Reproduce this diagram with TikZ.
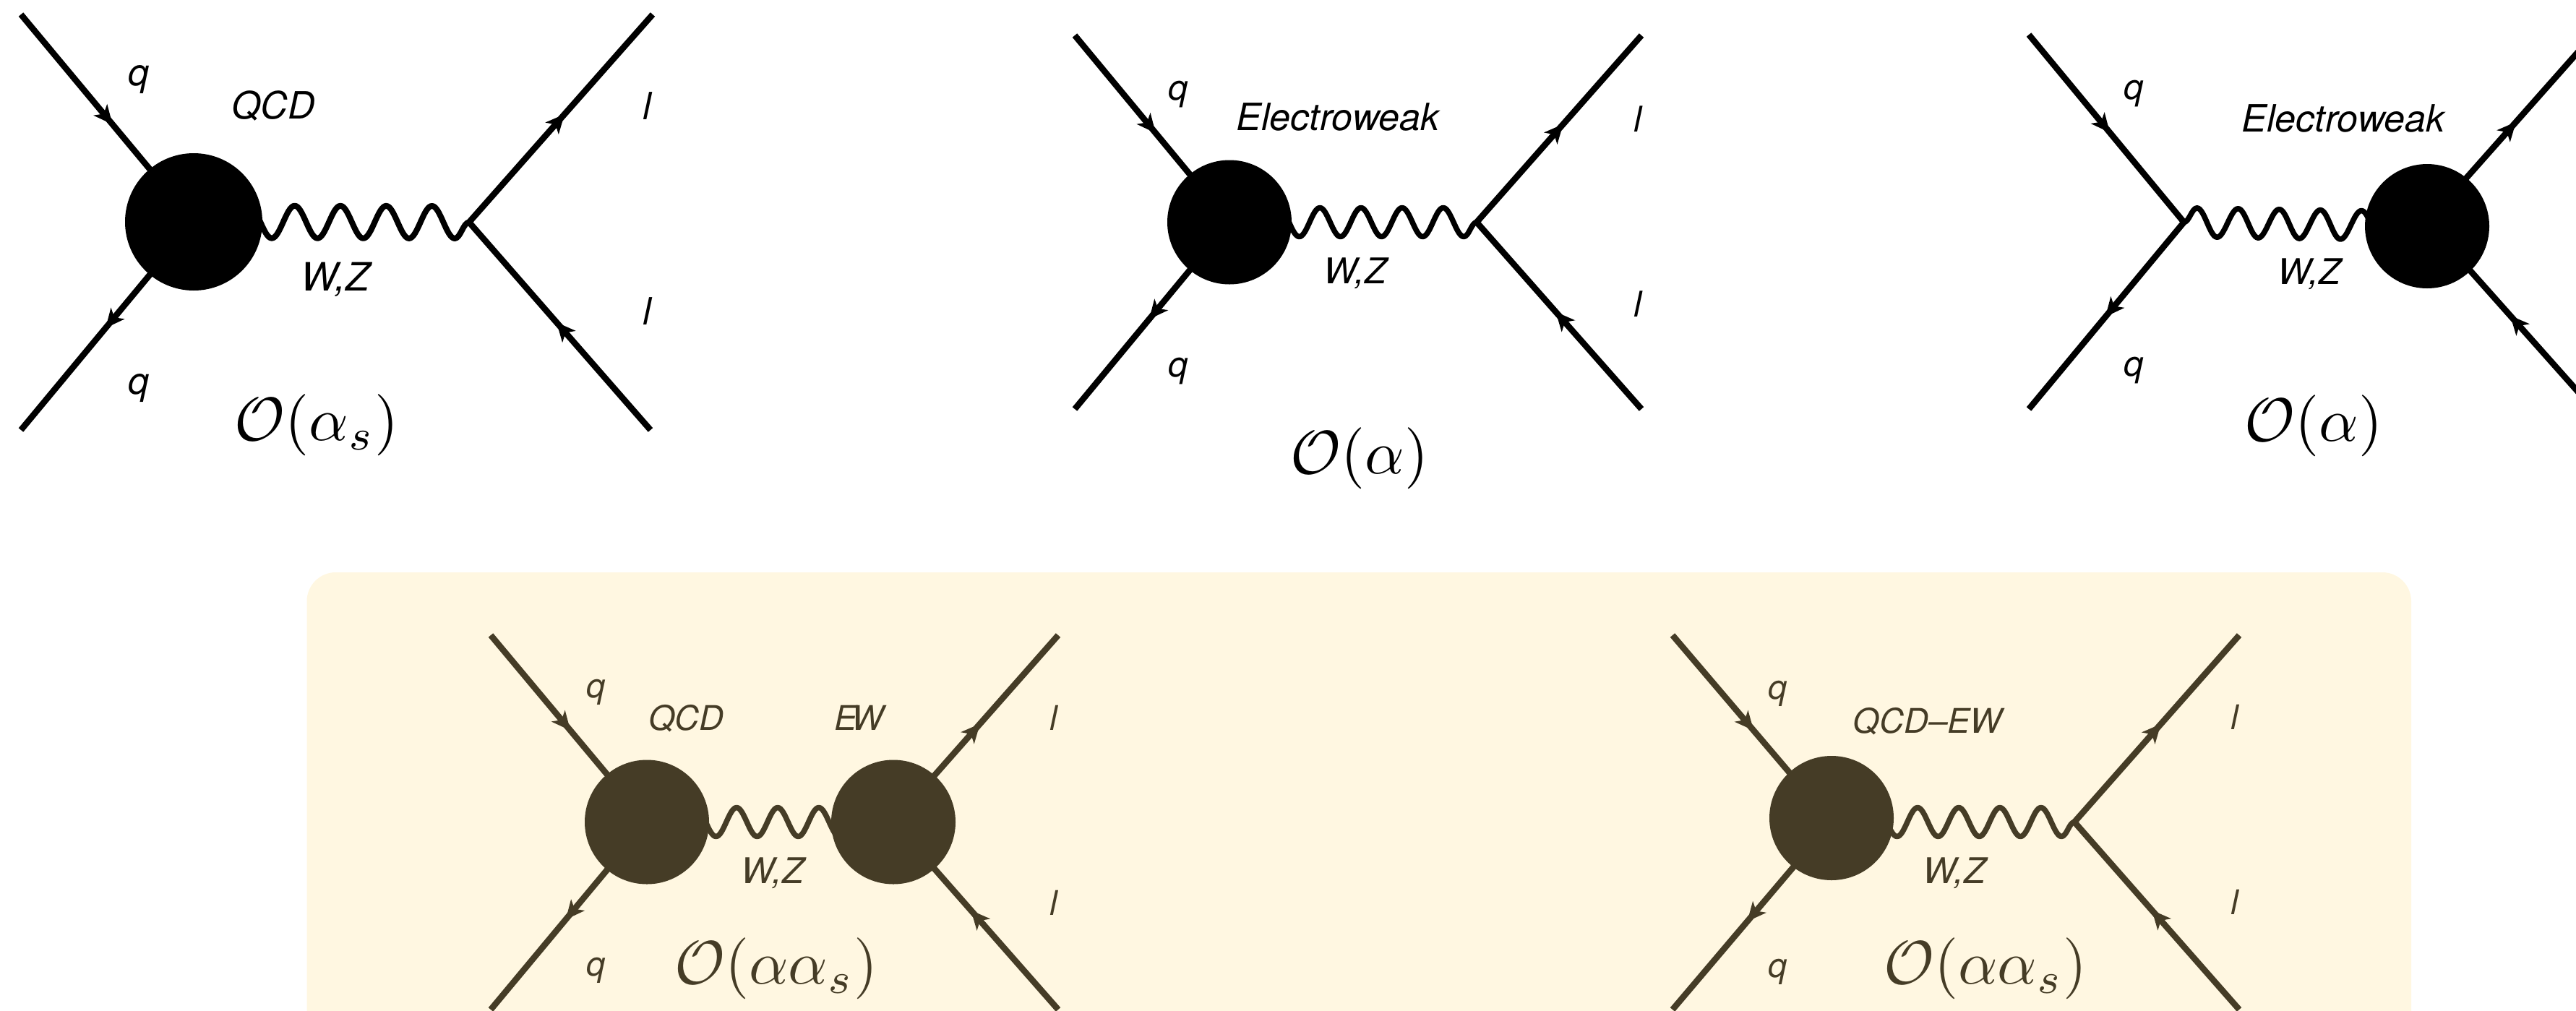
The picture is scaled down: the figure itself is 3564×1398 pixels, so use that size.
\documentclass[tikz,border=0pt]{standalone}
\usepackage[no-math]{fontspec}
\newfontfamily\heros{TeX Gyre Heros}
\usetikzlibrary{arrows.meta,decorations.markings,decorations.pathmorphing}
\definecolor{ink}{HTML}{453C26}
\definecolor{panel}{HTML}{FFF7E1}
\pgfdeclarelayer{panellayer}
\pgfdeclarelayer{conn}
\pgfsetlayers{panellayer,conn,main}
\tikzset{
  x=1pt,y=-1pt,
  fline/.style={line width=8.5pt,line cap=butt,postaction={decorate,decoration={markings,
      mark=at position #1 with {\arrow{Stealth[length=26pt,width=24pt,inset=7pt]}}}}},
  wavelong/.style={line width=8pt,line join=round,decorate,decoration={snake,segment length=63.3pt,amplitude=22.5pt}},
  waveshort/.style={line width=7.5pt,line join=round,decorate,decoration={snake,segment length=56.9pt,amplitude=20pt}},
  blob/.style={circle,fill=.,inner sep=0pt,minimum size=172pt,text=.},
  lab/.style={font=\heros\itshape\fontsize{52}{57}\selectfont,anchor=base,inner sep=0pt},
  labm/.style={font=\heros\itshape\fontsize{49}{54}\selectfont,anchor=base,inner sep=0pt},
  labs/.style={font=\heros\itshape\fontsize{47}{52}\selectfont,anchor=base,inner sep=0pt},
  order/.style={scale=8.5,inner sep=0pt},
}
\begin{document}
\begin{tikzpicture}
\useasboundingbox (0,0) rectangle (3564,1398);
\clip (0,0) rectangle (3564,1398);
\begin{pgfonlayer}{panellayer}
\fill[panel,rounded corners=40pt] (424.5,792) rectangle (3336,1500);
\end{pgfonlayer}

% ---------- top left
\begin{scope}[color=black]
\node[blob,minimum size=190pt] (a) at (268,307) {};
\coordinate (av) at (649,307.5);
\coordinate (a1) at (29,20); \coordinate (a2) at (29,595);
\coordinate (a3) at (903,20); \coordinate (a4) at (900,595);
\begin{pgfonlayer}{conn}
\draw[fline=.53] (a1) -- (a.center);
\draw[fline=.51] (a.center) -- (a2);
\draw[fline=.52] (av) -- (a3);
\draw[fline=.518] (a4) -- (av);
\draw[wavelong] (av) -- (a.center);
\end{pgfonlayer}
\node[lab] (aq1) at (192,118) {q};
\node[lab] (aq2) at (192,545) {q};
\node[lab] (at) at (378,164) {QCD};
\node[lab,font=\heros\itshape\fontsize{54}{59}\selectfont] (aw) at (464,402) {W,Z};
\node[lab] (al1) at (895,165) {l};
\node[lab] (al2) at (895,449) {l};
\node[order] (ao) at (438,588) {$\mathcal{O}(\alpha_s)$};
\end{scope}

% ---------- top middle
\begin{scope}[color=black]
\node[blob] (b) at (1701,307.5) {};
\coordinate (bv) at (2043,307.5);
\coordinate (b1) at (1487,49); \coordinate (b2) at (1487,566);
\coordinate (b3) at (2271,49); \coordinate (b4) at (2271,566);
\begin{pgfonlayer}{conn}
\draw[fline=.523] (b1) -- (b.center);
\draw[fline=.519] (b.center) -- (b2);
\draw[fline=.525] (bv) -- (b3);
\draw[fline=.52] (b4) -- (bv);
\draw[waveshort] (bv) -- (b.center);
\end{pgfonlayer}
\node[labm] (bq1) at (1630,138) {q};
\node[labm] (bq2) at (1630,521) {q};
\node[lab] (bt) at (1851,180) {Electroweak};
\node[labm] (bw) at (1875,392.5) {W,Z};
\node[labm] (bl1) at (2266,182) {l};
\node[labm] (bl2) at (2266,438) {l};
\node[order] (bo) at (1881,634) {$\mathcal{O}(\alpha)$};
\end{scope}

% ---------- top right
\begin{scope}[color=black]
\node[blob] (c) at (3358,313) {};
\coordinate (cv) at (3021.5,307.5);
\coordinate (ch) at (3358,307.5);
\coordinate (c1) at (2807,48); \coordinate (c2) at (2807,566);
\coordinate (c3) at (3588,48); \coordinate (c4) at (3588,566);
\begin{pgfonlayer}{conn}
\draw[fline=.522] (c1) -- (cv);
\draw[fline=.506] (cv) -- (c2);
\draw[fline=.535] (ch) -- (c3);
\draw[fline=.5] (c4) -- (ch);
\draw[waveshort] (cv) -- (c.center);
\end{pgfonlayer}
\node[labm] (cq1) at (2952,137) {q};
\node[labm] (cq2) at (2952,520) {q};
\node[lab] (ct) at (3242,182) {Electroweak};
\node[labm] (cw) at (3195,393.5) {W,Z};
\node[order] (co) at (3201,589) {$\mathcal{O}(\alpha)$};
\end{scope}

% ---------- bottom left
\begin{scope}[color=ink]
\node[blob] (d) at (895,1137.5) {};
\node[blob] (e) at (1236,1137.5) {};
\coordinate (d1) at (679,879); \coordinate (d2) at (679,1397);
\coordinate (e3) at (1464,879); \coordinate (e4) at (1464,1397);
\begin{pgfonlayer}{conn}
\begin{scope}[color=ink]
\draw[fline=.51] (d1) -- (d.center);
\draw[fline=.52] (d.center) -- (d2);
\draw[fline=.526] (e.center) -- (e3);
\draw[fline=.529] (e4) -- (e.center);
\draw[waveshort] (e.center) -- (d.center);
\end{scope}
\end{pgfonlayer}
\node[labs] (dq1) at (824.5,965) {q};
\node[labs] (dq2) at (824.5,1350) {q};
\node[labs] (dt) at (949.5,1010) {QCD};
\node[labs] (et) at (1188.5,1010) {E\kern-7pt W};
\node[labm] (dw) at (1069,1222.5) {W,Z};
\node[labs] (el1) at (1458,1010) {l};
\node[labs] (el2) at (1458,1266) {l};
\node[order] (do) at (1074,1340) {$\mathcal{O}(\alpha\alpha_s)$};
\end{scope}

% ---------- bottom right
\begin{scope}[color=ink]
\node[blob] (f) at (2534,1132) {};
\coordinate (fh) at (2534,1137.5);
\coordinate (fv) at (2870,1137.5);
\coordinate (f1) at (2314,879); \coordinate (f2) at (2314,1397);
\coordinate (f3) at (3098,879); \coordinate (f4) at (3098,1397);
\begin{pgfonlayer}{conn}
\begin{scope}[color=ink]
\draw[fline=.51] (f1) -- (fh);
\draw[fline=.53] (fh) -- (f2);
\draw[fline=.525] (fv) -- (f3);
\draw[fline=.53] (f4) -- (fv);
\draw[waveshort] (fv) -- (fh);
\end{scope}
\end{pgfonlayer}
\node[labs] (fq1) at (2460,967) {q};
\node[labs] (fq2) at (2460,1352) {q};
\node[labs] (ft) at (2667,1014) {QCD–EW};
\node[labm] (fw) at (2704,1222.5) {W,Z};
\node[labs] (fl1) at (3092,1009.5) {l};
\node[labs] (fl2) at (3092,1265) {l};
\node[order] (fo) at (2747,1340) {$\mathcal{O}(\alpha\alpha_s)$};
\end{scope}
\end{tikzpicture}
\end{document}
